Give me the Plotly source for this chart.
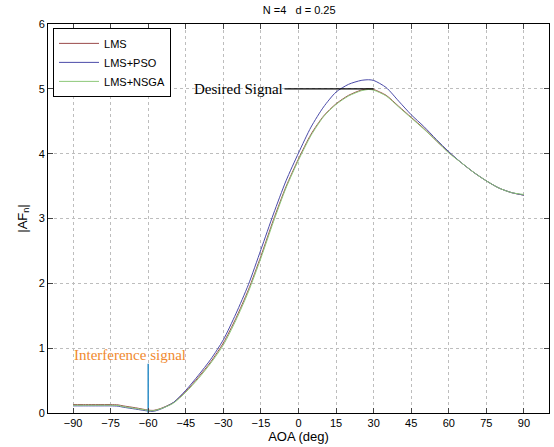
import plotly.graph_objects as go

# angle of arrival (deg) and array factor magnitudes
aoa = [-90, -85, -80, -75, -72, -70, -65, -60, -58, -55, -50, -45, -40, -35, -30, -25, -20, -15, -10, -5,
       0, 5, 10, 15, 20, 25, 28, 30, 35, 40, 45, 50, 55, 60, 65, 70, 75, 80, 85, 90]
af_lms = [0.13, 0.13, 0.13, 0.13, 0.125, 0.11, 0.08, 0.045, 0.04, 0.07, 0.16, 0.33, 0.55, 0.79, 1.08, 1.46, 1.9, 2.42, 2.98, 3.49,
          3.92, 4.3, 4.58, 4.77, 4.9, 4.98, 5.0, 4.99, 4.9, 4.73, 4.56, 4.39, 4.2, 4.02, 3.86, 3.71, 3.58, 3.47, 3.4, 3.36]
af_pso = [0.11, 0.11, 0.11, 0.11, 0.105, 0.09, 0.06, 0.03, 0.025, 0.06, 0.16, 0.35, 0.58, 0.83, 1.13, 1.53, 1.98, 2.52, 3.07, 3.58,
          4.01, 4.41, 4.72, 4.95, 5.07, 5.13, 5.14, 5.13, 5.02, 4.81, 4.6, 4.42, 4.22, 4.03, 3.86, 3.71, 3.58, 3.47, 3.4, 3.36]
af_nsga = [0.12, 0.12, 0.12, 0.12, 0.115, 0.1, 0.07, 0.04, 0.035, 0.065, 0.15, 0.32, 0.53, 0.77, 1.05, 1.43, 1.87, 2.39, 2.95, 3.47,
           3.9, 4.28, 4.57, 4.76, 4.89, 4.97, 4.99, 4.98, 4.89, 4.72, 4.55, 4.38, 4.2, 4.01, 3.86, 3.71, 3.58, 3.47, 3.4, 3.37]

interf_x = [-60, -60]
interf_y = [0, 0.76]

fig = go.Figure()
fig.add_trace(go.Scatter(x=aoa, y=af_lms, mode='lines', name='LMS',
                         line=dict(color='#9a4a4a', width=1, shape='spline', smoothing=0.7)))
fig.add_trace(go.Scatter(x=aoa, y=af_pso, mode='lines', name='LMS+PSO',
                         line=dict(color='#4a4aa8', width=1, shape='spline', smoothing=0.7)))
fig.add_trace(go.Scatter(x=aoa, y=af_nsga, mode='lines', name='LMS+NSGA',
                         line=dict(color='#8cc878', width=1, shape='spline', smoothing=0.7)))
fig.add_trace(go.Scatter(x=interf_x, y=interf_y, mode='lines', showlegend=False,
                         line=dict(color='#2f8fc8', width=1.5)))

fig.add_annotation(x=30, y=5.0, ax=-42.5, ay=5.0, axref='x', ayref='y',
                   text='Desired Signal', showarrow=True, arrowhead=0, arrowwidth=1.2,
                   arrowcolor='black', xanchor='left', standoff=0,
                   font=dict(family='Liberation Serif', size=15, color='black'))
fig.add_annotation(x=-90.5, y=0.9, text='Interference signal', showarrow=False, xanchor='left',
                   font=dict(family='Liberation Serif', size=15, color='#f0892e'))

fig.update_layout(
    width=554, height=447,
    margin=dict(l=48, r=5, t=24, b=34),
    paper_bgcolor='white', plot_bgcolor='white',
    font=dict(family='Liberation Sans', size=11, color='black'),
    title=dict(text='N =4   d = 0.25', x=0.54, xanchor='center', y=0.985, yanchor='top',
               font=dict(size=11)),
    legend=dict(x=0.01, y=0.99, xanchor='left', yanchor='top', bgcolor='white',
                bordercolor='black', borderwidth=1, font=dict(size=11),
                itemwidth=40, tracegroupgap=0),
)
fig.update_xaxes(range=[-100, 100], tickvals=list(range(-90, 91, 15)),
                 showgrid=True, gridcolor='#bdbdbd', griddash='dot', zeroline=False,
                 showline=True, linecolor='black', mirror='ticks', ticks='inside', ticklen=5,
                 title=dict(text='AOA (deg)', standoff=2))
fig.update_yaxes(range=[0, 6], tickvals=[0, 1, 2, 3, 4, 5, 6],
                 showgrid=True, gridcolor='#bdbdbd', griddash='dot', zeroline=False,
                 showline=True, linecolor='black', mirror='ticks', ticks='inside', ticklen=5,
                 title=dict(text='|AF<sub>n</sub>|', standoff=8))

fig.write_html("out.html", config={'displayModeBar': False},
               post_script="document.body.style.margin='0';")
